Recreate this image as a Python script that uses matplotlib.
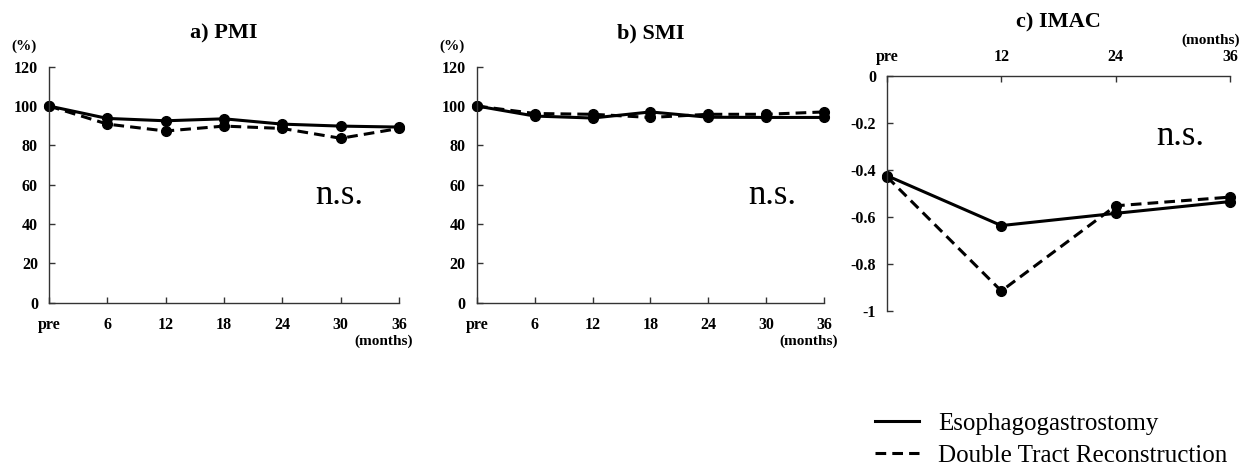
import matplotlib
matplotlib.use("Agg")
import matplotlib.pyplot as plt

# ── Data ────────────────────────────────────────────────────────────────────
months_6 = [0, 6, 12, 18, 24, 30, 36]
labels_6 = ["pre", "6", "12", "18", "24", "30", "36"]
months_12 = [0, 12, 24, 36]
labels_12 = ["pre", "12", "24", "36"]

pmi_eg = [100, 93.7, 92.5, 93.5, 90.8, 89.8, 89.3]
pmi_dtr = [100, 90.8, 87.3, 89.8, 88.6, 83.6, 88.6]

smi_eg = [100, 94.9, 93.9, 97.0, 94.3, 94.2, 94.2]
smi_dtr = [100, 96.2, 95.8, 94.2, 95.8, 95.8, 97.0]

imac_eg = [-0.425, -0.637, -0.585, -0.535]
imac_dtr = [-0.43, -0.915, -0.553, -0.516]

SERIF = ["Liberation Serif", "DejaVu Serif"]
plt.rcParams["font.family"] = SERIF

LW = 2.2
MS = 7
DASH = (0, (3.5, 2))

fig = plt.figure(figsize=(12.47, 4.73), dpi=100)


def style_axes(ax):
    for side in ("top", "right"):
        ax.spines[side].set_visible(False)
    for spine in ax.spines.values():
        spine.set_linewidth(1.0)
        spine.set_color("#333333")
    ax.tick_params(direction="in", length=4, width=1.0, color="#333333")
    for lab in ax.get_xticklabels() + ax.get_yticklabels():
        lab.set_fontweight("bold")
        lab.set_fontsize(11.5)


def pct_panel(rect, x, eg, dtr, title, ns_x):
    ax = fig.add_axes(rect)
    ax.plot(x, dtr, linestyle=DASH, color="black", lw=LW, marker="o", ms=MS)
    ax.plot(x, eg, linestyle="-", color="black", lw=LW, marker="o", ms=MS)
    ax.set_xlim(0, 36)
    ax.set_ylim(0, 120)
    ax.set_xticks(x)
    ax.set_xticklabels(labels_6)
    ax.set_yticks(range(0, 121, 20))
    ax.tick_params(axis="x", pad=10)
    ax.tick_params(axis="y", pad=8)
    style_axes(ax)
    ax.set_title(title, fontsize=16, fontweight="bold", pad=20)
    ax.text(-0.035, 1.085, "(%)", transform=ax.transAxes, fontsize=11,
            fontweight="bold", ha="right", va="center")
    ax.text(1.04, -0.163, "(months)", transform=ax.transAxes, fontsize=11,
            fontweight="bold", ha="right", va="center")
    ax.text(ns_x, 0.456, "n.s.", transform=ax.transAxes, fontsize=25,
            ha="center", va="center")
    for m in ax.lines:
        m.set_clip_on(False)
    return ax


pct_panel([0.0393, 0.36, 0.2807, 0.499], months_6, pmi_eg, pmi_dtr, "a) PMI", 0.83)
pct_panel([0.3825, 0.36, 0.2783, 0.499], months_6, smi_eg, smi_dtr, "b) SMI", 0.85)

# ── c) IMAC ─────────────────────────────────────────────────────────────────
ax = fig.add_axes([0.7113, 0.3425, 0.2751, 0.4975])
l_dtr, = ax.plot(months_12, imac_dtr, linestyle=DASH, color="black", lw=LW,
                 marker="o", ms=MS)
l_eg, = ax.plot(months_12, imac_eg, linestyle="-", color="black", lw=LW,
                marker="o", ms=MS)
for m in ax.lines:
    m.set_clip_on(False)
ax.set_xlim(0, 36)
ax.set_ylim(-1, 0)
ax.set_xticks(months_12)
ax.set_xticklabels(labels_12)
ax.set_yticks([0, -0.2, -0.4, -0.6, -0.8, -1])
ax.set_yticklabels(["0", "-0.2", "-0.4", "-0.6", "-0.8", "-1"])
ax.xaxis.tick_top()
ax.spines["bottom"].set_visible(False)
ax.spines["right"].set_visible(False)
for sp in ("top", "left"):
    ax.spines[sp].set_linewidth(1.0)
    ax.spines[sp].set_color("#333333")
ax.tick_params(direction="in", length=4, width=1.0, color="#333333")
ax.tick_params(axis="x", pad=8)
ax.tick_params(axis="y", pad=8)
for lab in ax.get_xticklabels() + ax.get_yticklabels():
    lab.set_fontweight("bold")
    lab.set_fontsize(11.5)
ax.set_title("c) IMAC", fontsize=16, fontweight="bold", pad=35)
ax.text(1.03, 1.15, "(months)", transform=ax.transAxes, fontsize=11,
        fontweight="bold", ha="right", va="center")
ax.text(0.854, 0.74, "n.s.", transform=ax.transAxes, fontsize=25,
        ha="center", va="center")

# ── Legend ──────────────────────────────────────────────────────────────────
fig.legend([l_eg, l_dtr], ["Esophagogastrostomy", "Double Tract Reconstruction"],
           loc="lower left", bbox_to_anchor=(0.684, -0.035), frameon=False,
           fontsize=18, handlelength=1.75, handletextpad=0.75, labelspacing=0.4)
for h in fig.legends[0].get_lines():
    h.set_marker("")

fig.savefig("out.png", dpi=100)
